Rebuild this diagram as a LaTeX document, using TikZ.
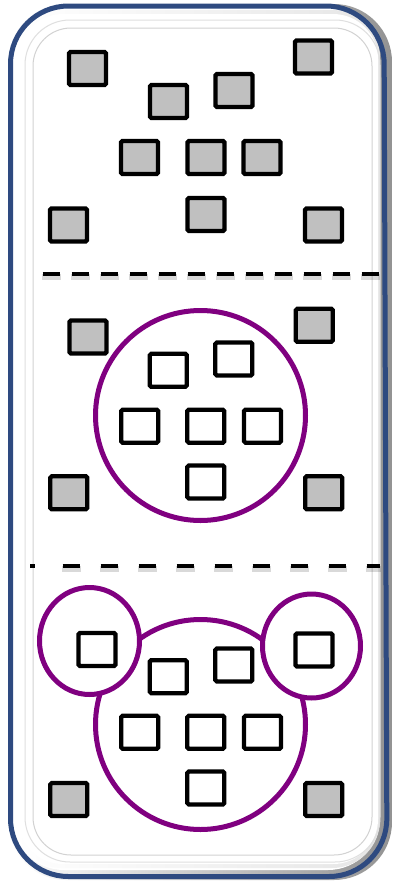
\documentclass[tikz,border=0pt]{standalone}
\usetikzlibrary{shadings}
\definecolor{frameblue}{HTML}{2E4A80}
\definecolor{boxgray}{HTML}{C0C0C0}
\definecolor{grp}{HTML}{800080}
\tikzset{
  sq/.style={draw=black, line width=4.3pt, rounded corners=1.5pt, minimum width=37pt, minimum height=33pt, inner sep=0pt, outer sep=0pt},
  gsq/.style={sq, fill=boxgray},
  wsq/.style={sq, fill=white},
  grpline/.style={draw=grp, line width=5pt},
  sep/.style={line width=4pt, dash pattern=on 17pt off 12pt},
  sepshadow/.style={line width=6pt, draw=black, opacity=0.15, dash pattern=on 19pt off 10pt},
}
\begin{document}
\begin{tikzpicture}[x=1pt,y=-1pt]
\useasboundingbox (0,0) rectangle (392,881);
% frame with bevel
\shade[left color=white, right color=gray!85, rounded corners=58pt] (8,4) rectangle (392,880);
\fill[white, rounded corners=52pt] (12,7) rectangle (380,870);
\shade[left color=white, right color=gray!20, rounded corners=48pt] (14,10) rectangle (380,868);
\fill[white, rounded corners=45pt] (18,14) rectangle (378,864);
\draw[frameblue, line width=5pt, rounded corners=58pt] (10.5,6) -- (384,6) -- (387,876.5) -- (10.5,876.5) -- cycle;
\draw[gray!25, line width=1pt, rounded corners=45pt] (25,20) rectangle (380,862);
\draw[gray!35, line width=1pt, rounded corners=38pt] (33,28) rectangle (372,855);
% separators
\draw[sepshadow] (41.7,277) -- (381,277);
\draw[sep] (42.7,274) -- (380,274);
\draw[line width=6pt, draw=black, opacity=0.15, dash pattern=on 19pt off 19pt] (61.7,569) -- (381,569);
\draw[sep, dash pattern=on 17pt off 21pt] (62.7,566) -- (380,566);
\draw[line width=4pt] (30,566) -- (35,566);
% top section
\node[gsq] (t1) at (87.5,68.5) {};
\node[gsq] (t2) at (168.5,101.5) {};
\node[gsq] (t3) at (234,90.5) {};
\node[gsq] (t4) at (313.5,57) {};
\node[gsq] (t5) at (139.5,157.5) {};
\node[gsq] (t6) at (206,157.5) {};
\node[gsq] (t7) at (262,157.5) {};
\node[gsq] (t8) at (68.5,225) {};
\node[gsq] (t9) at (206,214.5) {};
\node[gsq] (t10) at (323.5,225) {};
% middle section
\draw[grpline] (200.5,415.5) circle (105);
\node[gsq] (m1) at (88,337) {};
\node[gsq] (m2) at (314.3,325.3) {};
\node[gsq] (m3) at (68.8,492.8) {};
\node[gsq] (m4) at (323.7,492.8) {};
\node[wsq] (m5) at (168.3,370.3) {};
\node[wsq] (m6) at (233.8,359) {};
\node[wsq] (m7) at (139.7,426.2) {};
\node[wsq] (m8) at (205.8,426.2) {};
\node[wsq] (m9) at (262.5,426.2) {};
\node[wsq] (m10) at (205.8,482) {};
% bottom section
\draw[grpline] (200.5,724.5) circle (105);
\filldraw[grpline, fill=white] (89.5,641) ellipse (50 and 53.5);
\filldraw[grpline, fill=white] (311.5,646) ellipse (49 and 52);
\node[wsq] (b1) at (97,649.5) {};
\node[wsq] (b2) at (314,650) {};
\node[wsq] (b3) at (168.3,676.7) {};
\node[wsq] (b4) at (233.8,665) {};
\node[wsq] (b5) at (139.7,732.3) {};
\node[wsq] (b6) at (205.8,732.3) {};
\node[wsq] (b7) at (262.5,732.3) {};
\node[wsq] (b8) at (205.8,788) {};
\node[gsq] (b9) at (68.8,799.5) {};
\node[gsq] (b10) at (323.7,799.5) {};
\end{tikzpicture}
\end{document}
